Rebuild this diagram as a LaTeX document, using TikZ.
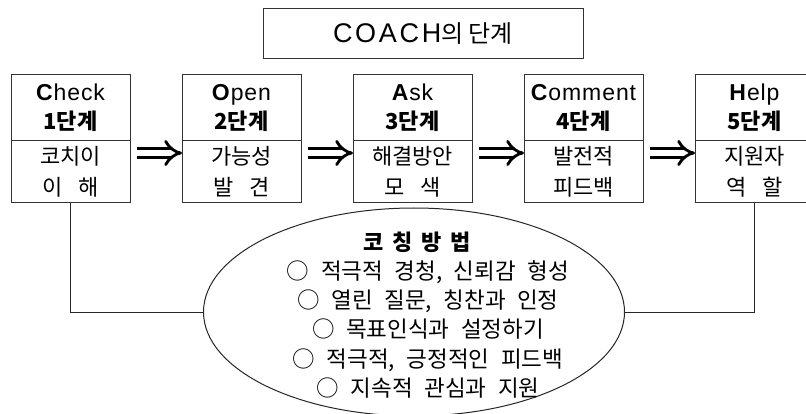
\documentclass[tikz,border=0pt]{standalone}
\usepackage{fontspec}
\setmainfont{Noto Sans CJK KR}
\newfontfamily\latinfont[LetterSpace=4]{Liberation Sans}
\newfontfamily\titlelatin[LetterSpace=10]{Liberation Sans}
\newfontfamily\methodfont[WordSpace=2.3]{Noto Sans CJK KR}
\usetikzlibrary{arrows.meta, positioning, shapes.geometric}

% English step name with its bold first letter
\newcommand{\stepName}[2]{{\latinfont\fontsize{23}{29}\selectfont\textbf{#1}#2}}

\begin{document}
\begin{tikzpicture}[
        x=1pt, y=-1pt,
        titleBox/.style={
            draw=black!80,
            line width=1pt,
            minimum width=320pt,
            minimum height=50pt,
            inner sep=0pt,
            outer sep=0pt,
            font=\fontsize{24}{27}\selectfont
        },
        headBox/.style={
            draw=black!80,
            line width=1pt,
            minimum width=119pt,
            minimum height=66pt,
            inner sep=0pt,
            outer sep=0pt,
            align=center,
            font=\fontsize{22}{29}\selectfont
        },
        bodyBox/.style={
            headBox,
            minimum height=62pt,
            font=\fontsize{22}{31}\selectfont
        },
        stepArrow/.style={
            -{Implies},
            draw=black,
            double=white,
            double distance=6pt,
            line width=2.8pt
        },
        methodEllipse/.style={
            ellipse,
            draw=black!85,
            line width=1pt,
            minimum width=421pt,
            minimum height=208pt,
            inner sep=0pt
        },
        methodText/.style={
            align=center,
            inner sep=0pt,
            font=\methodfont\fontsize{22.5}{29.2}\selectfont
        },
        linkLine/.style={
            draw=black!85,
            line width=1pt
        }
    ]

        \useasboundingbox (0,0) rectangle (806,414);

        % Title
        \node[titleBox] (title) at (423,34) {{\titlelatin\fontsize{27}{27}\selectfont COACH}의 단계};

        % Step boxes
        \node[headBox, anchor=north west] (head1) at (11,75) {\stepName{C}{heck}\\\textbf{1단계}};
        \node[headBox, right=52pt of head1] (head2) {\stepName{O}{pen}\\\textbf{2단계}};
        \node[headBox, right=52pt of head2] (head3) {\stepName{A}{sk}\\\textbf{3단계}};
        \node[headBox, right=52pt of head3] (head4) {\stepName{C}{omment}\\\textbf{4단계}};
        \node[headBox, right=52pt of head4] (head5) {\stepName{H}{elp}\\\textbf{5단계}};

        \node[bodyBox, below=0pt of head1] (body1) {코치이\\이\hspace{0.7em}해};
        \node[bodyBox, below=0pt of head2] (body2) {가능성\\발\hspace{0.7em}견};
        \node[bodyBox, below=0pt of head3] (body3) {해결방안\\모\hspace{0.7em}색};
        \node[bodyBox, below=0pt of head4] (body4) {발전적\\피드백};
        \node[bodyBox, below=0pt of head5] (body5) {지원자\\역\hspace{0.7em}할};

        % Arrows between the steps
        \draw[stepArrow] ([xshift=7pt, yshift=-12pt]head1.south east) -- ([yshift=-12pt]head2.south west);
        \draw[stepArrow] ([xshift=7pt, yshift=-12pt]head2.south east) -- ([yshift=-12pt]head3.south west);
        \draw[stepArrow] ([xshift=7pt, yshift=-12pt]head3.south east) -- ([yshift=-12pt]head4.south west);
        \draw[stepArrow] ([xshift=7pt, yshift=-12pt]head4.south east) -- ([yshift=-12pt]head5.south west);

        % Coaching methods
        \node[methodEllipse] (method) at (414,312) {};
        \node[methodText] (methodList) at ([xshift=14pt, yshift=-3pt]method.center) {
            {\fontsize{22}{29.2}\selectfont\textbf{코\hspace{0.4em}칭\hspace{0.4em}방\hspace{0.4em}법}}\hspace{22pt}\mbox{}\\
            ○ 적극적 경청, 신뢰감 형성\\
            ○ 열린 질문, 칭찬과 인정\\
            ○ 목표인식과 설정하기\\
            ○ 적극적, 긍정적인 피드백\\
            ○ 지속적 관심과 지원
        };

        % Links from the first and last step
        \draw[linkLine] (body1.south) |- (method.west);
        \draw[linkLine] (body5.south) |- (method.east);

    \end{tikzpicture}
\end{document}
